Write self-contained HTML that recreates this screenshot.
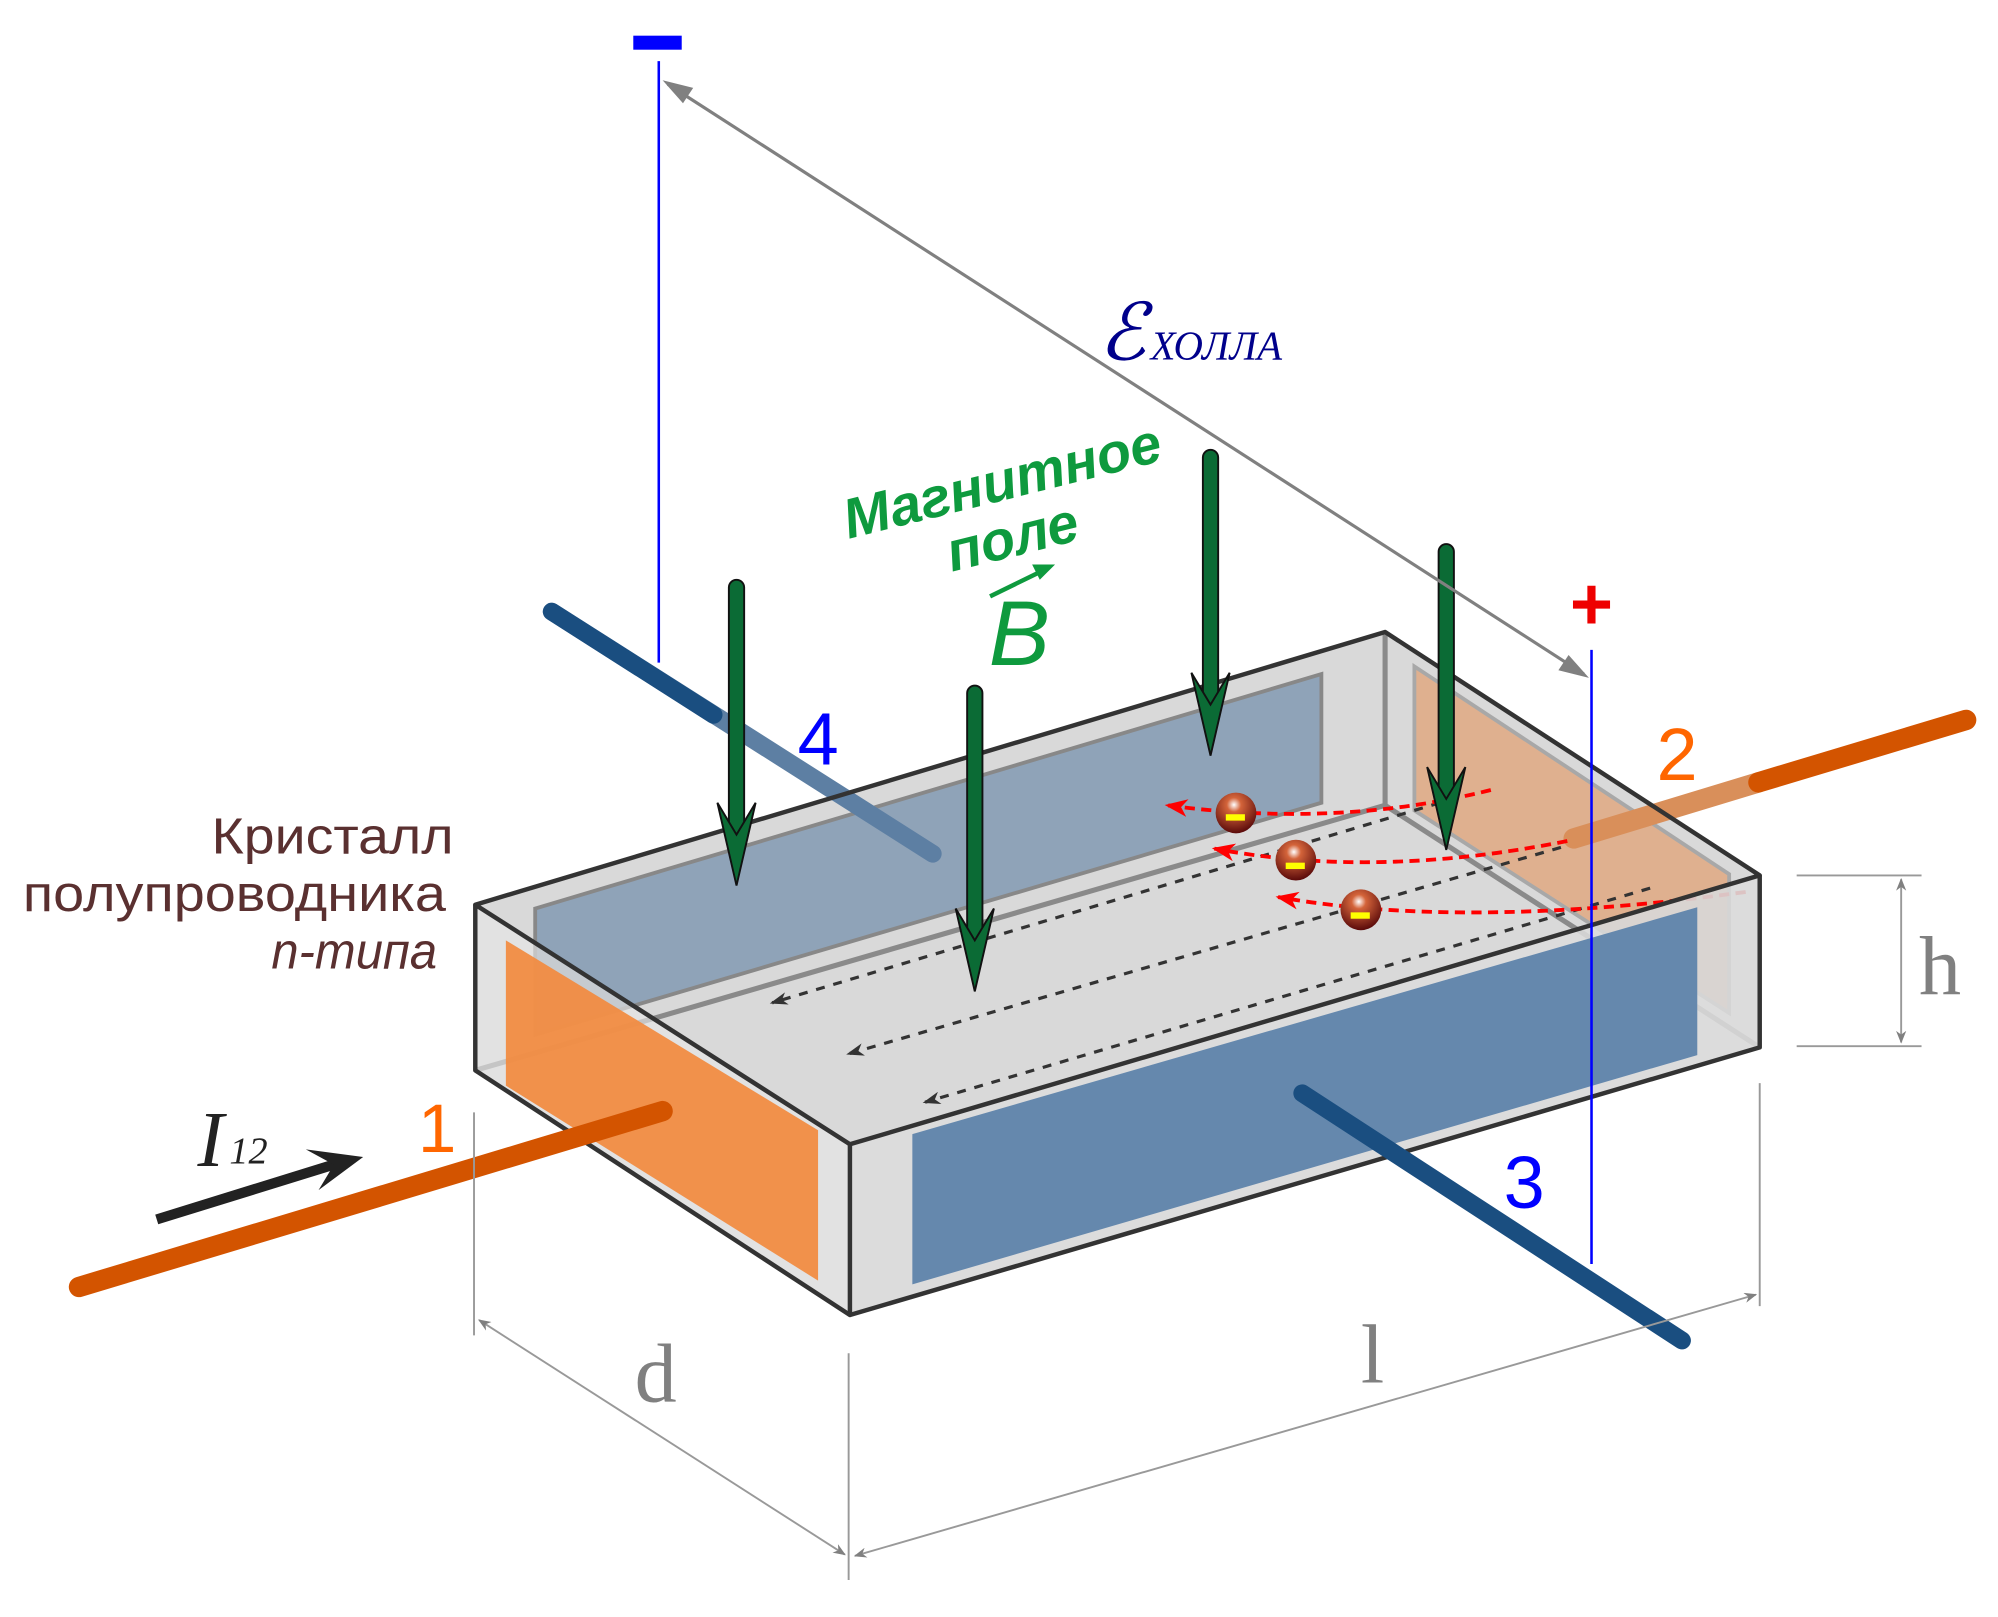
<!DOCTYPE html>
<html><head><meta charset="utf-8"><style>html,body{margin:0;padding:0;background:#fff}svg{display:block}</style></head>
<body>
<svg width="1998" height="1617" viewBox="0 0 1568 1269" xmlns="http://www.w3.org/2000/svg">
<defs>
<marker id="ga" markerWidth="10" markerHeight="8" refX="9" refY="4" orient="auto" markerUnits="userSpaceOnUse"><path d="M0,0 L10,4 L0,8 L3,4z" fill="#808080"/></marker>
<marker id="gs" markerWidth="10" markerHeight="8" refX="1" refY="4" orient="auto" markerUnits="userSpaceOnUse"><path d="M10,0 L0,4 L10,8 L7,4z" fill="#808080"/></marker>
<marker id="ra" markerWidth="18" markerHeight="14" refX="16" refY="7" orient="auto" markerUnits="userSpaceOnUse"><path d="M0,0 L18,7 L0,14 L5,7z" fill="#f00"/></marker>
<marker id="ka" markerWidth="14" markerHeight="10" refX="12" refY="5" orient="auto" markerUnits="userSpaceOnUse"><path d="M0,0 L14,5 L0,10 L4,5z" fill="#333"/></marker>
<radialGradient id="el" cx="0.45" cy="0.3" r="0.7"><stop offset="0" stop-color="#fff"/><stop offset="0.25" stop-color="#d4643a"/><stop offset="1" stop-color="#5a0a0a"/></radialGradient>
</defs>

<!-- top face -->
<polygon points="373,710 1087,496 1381,687 667,898" fill="#d9d9d9"/>
<!-- back inner edges -->
<polyline points="373,840 1087,632 1381,822" fill="none" stroke="#8a8a8a" stroke-width="4"/>
<line x1="1087" y1="496" x2="1087" y2="632" stroke="#8a8a8a" stroke-width="4"/>
<!-- back plates -->
<polygon points="420,713 1037,529 1037,630 420,812" fill="#8fa3b8" stroke="#888" stroke-width="3"/>
<polygon points="1110,523 1357,686 1357,795 1110,636" fill="#dfb08f" stroke="#a8a8a8" stroke-width="3"/>
<!-- wire 4 inside -->
<line x1="433" y1="480" x2="732" y2="670" stroke="#5d7fa3" stroke-width="14" stroke-linecap="round"/>
<line x1="433" y1="480" x2="560" y2="561" stroke="#1a4e80" stroke-width="14" stroke-linecap="round"/>
<!-- wire 2 inside part -->
<line x1="1235" y1="658" x2="1380" y2="614" stroke="#d98f5a" stroke-width="16" stroke-linecap="round"/>

<!-- dashed current lines -->
<g stroke="#333" stroke-width="2.5" stroke-dasharray="7,7" fill="none">
<line x1="1130" y1="630" x2="606" y2="787" marker-end="url(#ka)"/>
<line x1="1225" y1="665" x2="666" y2="827" marker-end="url(#ka)"/>
<line x1="1295" y1="697" x2="726" y2="865" marker-end="url(#ka)"/>
</g>
<!-- red electron paths -->
<g stroke="#f00" stroke-width="3" stroke-dasharray="8,5" fill="none">
<path d="M1170,620 Q1050,650 916,632" marker-end="url(#ra)"/>
<path d="M1230,660 Q1080,690 953,666" marker-end="url(#ra)"/>
<path d="M1370,700 Q1150,730 1003,704" marker-end="url(#ra)"/>
</g>
<g>
<circle cx="970" cy="638" r="16" fill="url(#el)"/><rect x="962" y="639" width="15" height="5" fill="#ff0"/>
<circle cx="1017" cy="675" r="16" fill="url(#el)"/><rect x="1009" y="677" width="15" height="5" fill="#ff0"/>
<circle cx="1068" cy="714" r="16" fill="url(#el)"/><rect x="1060" y="716" width="15" height="5" fill="#ff0"/>
</g>

<!-- front faces -->
<polygon points="667,898 1381,687 1381,822 667,1032" fill="#d8d8d8" fill-opacity="0.9"/>
<polygon points="373,710 667,898 667,1032 373,840" fill="#d8d8d8" fill-opacity="0.75"/>
<polygon points="716,890 1332,712 1332,828 716,1008" fill="#6588ad"/>
<polygon points="397,738 642,887 642,1005 397,852" fill="#f28a3e" fill-opacity="0.92"/>
<!-- box outline -->
<g fill="none" stroke="#333" stroke-width="3.5" stroke-linejoin="round">
<polygon points="373,710 1087,496 1381,687 667,898"/>
<polyline points="373,710 373,840 667,1032 1381,822 1381,687"/>
<line x1="667" y1="898" x2="667" y2="1032"/>
</g>

<!-- wires outside -->
<line x1="62" y1="1010" x2="520" y2="872" stroke="#d35400" stroke-width="16" stroke-linecap="round"/>
<line x1="1380" y1="614" x2="1543" y2="565" stroke="#d35400" stroke-width="16" stroke-linecap="round"/>
<line x1="1022" y1="858" x2="1320" y2="1052" stroke="#1a4e80" stroke-width="14" stroke-linecap="round"/>

<!-- green arrows -->
<g fill="#0b6b35" stroke="#111" stroke-width="1.5">
<g><rect x="572" y="455" width="12" height="205" rx="6"/><path d="M563,630 L578,695 L593,630 L578,655z"/></g>
<g><rect x="759" y="538" width="12" height="205" rx="6"/><path d="M750,713 L765,778 L780,713 L765,738z"/></g>
<g><rect x="944" y="353" width="12" height="205" rx="6"/><path d="M935,528 L950,593 L965,528 L950,553z"/></g>
<g><rect x="1129" y="427" width="12" height="205" rx="6"/><path d="M1120,602 L1135,667 L1150,602 L1135,627z"/></g>
</g>

<!-- blue measurement lines -->
<line x1="517" y1="48" x2="517" y2="520" stroke="#00f" stroke-width="2"/>
<line x1="1249" y1="510" x2="1249" y2="992" stroke="#00f" stroke-width="2"/>
<rect x="497" y="28" width="38" height="11" fill="#00f"/>
<text x="1249" y="494" font-family="Liberation Sans, sans-serif" font-size="58" font-weight="bold" fill="#e00" text-anchor="middle">+</text>
<!-- EMF arrow -->
<line x1="524" y1="66" x2="1243" y2="529" stroke="#808080" stroke-width="2.5"/>
<path d="M520,63 L544,69 L536,81z" fill="#808080"/>
<path d="M1247,532 L1223,526 L1231,514z" fill="#808080"/>

<!-- dimension lines -->
<g stroke="#999" stroke-width="1.5" fill="none">
<line x1="1410" y1="687" x2="1508" y2="687"/>
<line x1="1410" y1="821" x2="1508" y2="821"/>
<line x1="1492" y1="690" x2="1492" y2="818" marker-start="url(#gs)" marker-end="url(#ga)"/>
<line x1="372" y1="873" x2="372" y2="1048"/>
<line x1="666" y1="1062" x2="666" y2="1240"/>
<line x1="1381" y1="850" x2="1381" y2="1025"/>
<line x1="376" y1="1036" x2="663" y2="1220" marker-start="url(#gs)" marker-end="url(#ga)"/>
<line x1="671" y1="1221" x2="1378" y2="1016" marker-start="url(#gs)" marker-end="url(#ga)"/>
</g>

<!-- current arrow -->
<line x1="123" y1="957" x2="265" y2="913" stroke="#222" stroke-width="8"/>
<path d="M285,908 L240,902 L262,914 L250,934z" fill="#222"/>

<!-- labels -->
<g font-family="Liberation Sans, sans-serif">
<text x="626" y="600" font-size="58" fill="#00f">4</text>
<text x="1300" y="612" font-size="58" fill="#f60">2</text>
<text x="1180" y="948" font-size="58" fill="#00f">3</text>
<text x="328" y="904" font-size="54" fill="#f60">1</text>
<g fill="#5a3030" font-size="40" text-anchor="end">
<text x="356" y="670" textLength="190" lengthAdjust="spacingAndGlyphs">Кристалл</text>
<text x="350" y="715" textLength="332" lengthAdjust="spacingAndGlyphs">полупроводника</text>
<text x="343" y="760" font-style="italic" textLength="130" lengthAdjust="spacingAndGlyphs">n-типа</text>
</g>
<g fill="#0e9a3e" font-weight="bold" font-style="italic" text-anchor="middle">
<text x="790" y="392" font-size="44" transform="rotate(-14 790 392)">Магнитное</text>
<text x="798" y="436" font-size="44" transform="rotate(-14 798 436)">поле</text>
<text x="800" y="522" font-size="72" font-weight="normal">B</text>
</g>
<line x1="777" y1="468" x2="818" y2="448" stroke="#0e9a3e" stroke-width="3.5"/>
<path d="M828,443 L810,443 L816,455z" fill="#0e9a3e"/>
</g>
<g font-family="Liberation Serif, serif" fill="#00008b" font-style="italic">
<text x="862" y="282" font-size="62">ℰ</text>
<text x="903" y="282" font-size="32">ХОЛЛА</text>
</g>
<g font-family="Liberation Serif, serif" fill="#808080">
<text x="1506" y="780" font-size="66">h</text>
<text x="498" y="1100" font-size="66">d</text>
<text x="1068" y="1085" font-size="66">l</text>
</g>
<g font-family="Liberation Serif, serif" fill="#222" font-style="italic">
<text x="155" y="915" font-size="62">I</text>
<text x="180" y="913" font-size="30">12</text>
</g>
</svg>
</body></html>
